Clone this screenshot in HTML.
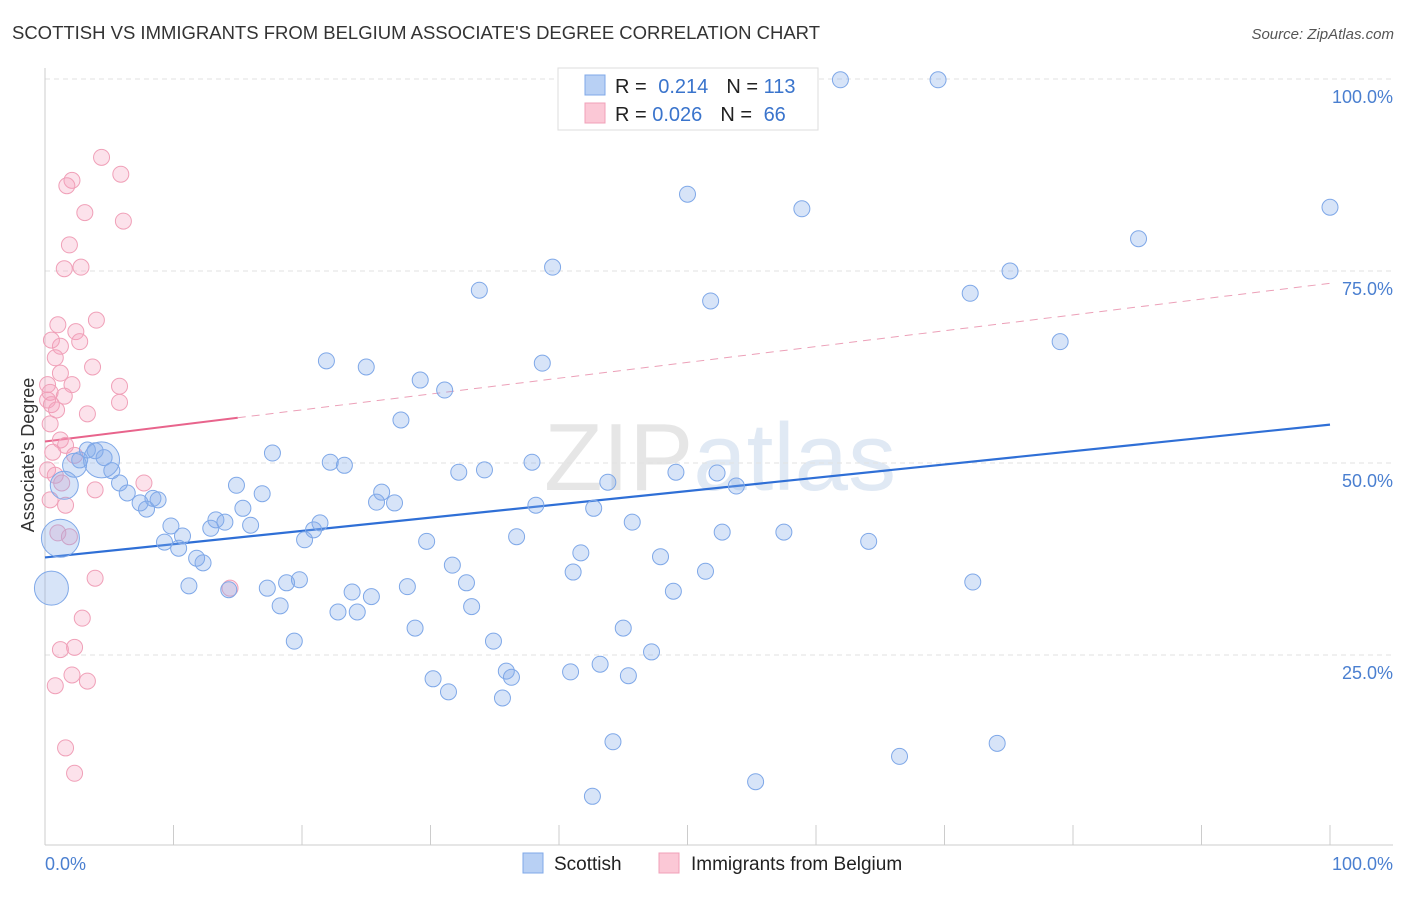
<!DOCTYPE html>
<html><head><meta charset="utf-8"><style>
body{margin:0;background:#fff;font-family:"Liberation Sans",sans-serif;}
svg text{font-family:"Liberation Sans",sans-serif;}
</style></head><body>
<svg id="chart" width="1406" height="892" viewBox="0 0 1406 892">
<text x="12" y="39" font-size="18" fill="#333" textLength="808" lengthAdjust="spacingAndGlyphs">SCOTTISH VS IMMIGRANTS FROM BELGIUM ASSOCIATE'S DEGREE CORRELATION CHART</text>
<text x="1394" y="39" font-size="15" fill="#555" font-style="italic" text-anchor="end">Source: ZipAtlas.com</text>
<text x="720" y="490" font-size="96" fill="#e4e8ee" text-anchor="middle" font-family="Liberation Serif"><tspan fill="#e6e6e6">ZIP</tspan><tspan fill="#e0e9f4" font-family="Liberation Sans">atlas</tspan></text>
<g id="grid"></g>
<g id="axes"></g>
<g id="lines"></g>
<g id="points"></g>
<text x="34" y="455" font-size="18" fill="#333" text-anchor="middle" transform="rotate(-90 34 455)">Associate's Degree</text>
<text x="45" y="870" font-size="18" fill="#4a7fd0">0.0%</text>
<text x="1393" y="870" font-size="18" fill="#4a7fd0" text-anchor="end">100.0%</text>
<g>
<rect x="558" y="68" width="260" height="62" fill="#fff" stroke="#ddd"/>
<rect x="585" y="75" width="20" height="20" fill="#b8d0f4" stroke="#7fa8e8"/>
<rect x="585" y="103" width="20" height="20" fill="#fbc8d6" stroke="#f0a0b8"/>
<text x="615" y="93" font-size="20" fill="#222">R = <tspan fill="#3a74cc" dx="6">0.214</tspan><tspan dx="18" fill="#222">N = </tspan><tspan fill="#3a74cc">113</tspan></text>
<text x="615" y="121" font-size="20" fill="#222">R = <tspan fill="#3a74cc">0.026</tspan><tspan dx="18" fill="#222">N = </tspan><tspan fill="#3a74cc" dx="6">66</tspan></text>
</g>
<g>
<rect x="523" y="853" width="20" height="20" fill="#b8d0f4" stroke="#7fa8e8"/>
<text x="554" y="870" font-size="19" fill="#222">Scottish</text>
<rect x="659" y="853" width="20" height="20" fill="#fbc8d6" stroke="#f0a0b8"/>
<text x="691" y="870" font-size="19" fill="#222">Immigrants from Belgium</text>
</g>
</svg>
<script>
const yTicks=[25,50,75,100];
const yTickLabels=["25.0%","50.0%","75.0%","100.0%"];
const xTicks=[0,10,20,30,40,50,60,70,80,90,100];
const blueX=[61.9,69.5,50.0,58.9,100,85.1,39.5,75.1,33.8,51.8,72.0,79.0,21.9,25.0,38.7,29.2,31.1,27.7,17.7,22.2,23.3,32.2,34.2,37.9,49.1,52.3,53.8,43.8,14.9,16.9,26.2,25.8,27.2,38.2,42.7,45.7,52.7,57.5,64.1,36.7,29.7,41.7,47.9,31.7,51.4,41.1,32.8,72.2,48.9,28.2,23.9,25.4,33.2,22.8,24.3,45.0,28.8,34.9,47.2,19.4,43.2,40.9,45.4,35.9,36.3,30.2,31.4,35.6,44.2,66.5,74.1,55.3,42.6,3.3,3.9,4.6,5.2,5.8,6.4,7.4,7.9,8.4,8.8,9.8,10.7,9.3,10.4,11.8,12.3,11.2,14.3,17.3,18.3,18.8,19.8,20.2,20.9,21.4,12.9,13.3,14.0,15.4,16.0,2.7,4.4,0.5,1.2,1.5,2.3,1.2];
const blueY=[99.9,99.9,85.0,83.1,83.3,79.2,75.5,75.0,72.5,71.1,72.1,65.8,63.3,62.5,63.0,60.8,59.5,55.6,51.3,50.1,49.7,48.8,49.1,50.1,48.8,48.7,47.0,47.5,47.1,46.0,46.2,44.9,44.8,44.5,44.1,42.3,41.0,41.0,39.8,40.4,39.8,38.3,37.8,36.7,35.9,35.8,34.4,34.5,33.3,33.9,33.2,32.6,31.3,30.6,30.6,28.5,28.5,26.8,25.4,26.8,23.8,22.8,22.3,22.9,22.1,21.9,20.2,19.4,13.7,11.8,13.5,8.5,6.6,51.7,51.6,50.7,49.0,47.4,46.1,44.8,44.0,45.4,45.2,41.8,40.5,39.7,38.9,37.6,37.0,34.0,33.5,33.7,31.4,34.4,34.8,40.0,41.3,42.2,41.5,42.6,42.3,44.1,41.9,50.4,50.4,33.7,40.2,47.1,49.7,43.9];
const blueR=[8,8,8,8,8,8,8,8,8,8,8,8,8,8,8,8,8,8,8,8,8,8,8,8,8,8,8,8,8,8,8,8,8,8,8,8,8,8,8,8,8,8,8,8,8,8,8,8,8,8,8,8,8,8,8,8,8,8,8,8,8,8,8,8,8,8,8,8,8,8,8,8,8,8,8,8,8,8,8,8,8,8,8,8,8,8,8,8,8,8,8,8,8,8,8,8,8,8,8,8,8,8,8,8,18,17,19,14,12];
const pinkX=[4.4,5.9,2.1,1.7,3.1,6.1,1.9,1.5,2.8,4.0,1.0,2.4,2.7,1.2,0.5,0.8,3.7,1.2,5.8,2.1,0.2,0.4,1.5,5.8,0.2,0.5,0.9,3.3,0.4,1.2,1.6,0.6,2.3,0.2,0.8,1.3,7.7,3.9,0.4,1.6,1.0,1.9,3.9,14.4,2.9,2.3,1.2,2.1,3.3,0.8,1.6,2.3];
const pinkY=[89.8,87.6,86.8,86.1,82.6,81.5,78.4,75.3,75.5,68.6,68.0,67.1,65.8,65.2,66.0,63.7,62.5,61.7,60.0,60.2,60.2,59.2,58.7,57.9,58.2,57.6,56.9,56.4,55.1,53.0,52.3,51.4,51.0,49.1,48.4,47.4,47.4,46.5,45.2,44.5,40.9,40.4,35.0,33.7,29.8,26.0,25.7,22.4,21.6,21.0,12.9,9.6];
const blueTrend=[37.7,55.0];
const pinkTrend=[52.8,73.4];
const pinkSolidEnd=15;

const NS="http://www.w3.org/2000/svg";
const X0=45,X1=1330,Y0=847,Y100=79;
function sx(v){return X0+(X1-X0)*v/100;}
function sy(v){return Y0-(Y0-Y100)*v/100;}
function mk(tag,attrs,parent){const e=document.createElementNS(NS,tag);for(const k in attrs)e.setAttribute(k,attrs[k]);parent.appendChild(e);return e;}
const grid=document.getElementById('grid'),axes=document.getElementById('axes'),lines=document.getElementById('lines'),pts=document.getElementById('points');
yTicks.forEach((t,i)=>{
 const l=mk('line',{x1:45,x2:1393,y1:sy(t),y2:sy(t),stroke:'#e2e2e2','stroke-dasharray':'5,4'},grid);
 
 
 const tx=mk('text',{x:1393,y:sy(t)+24,'font-size':18,fill:'#4a7fd0','text-anchor':'end'},grid);
 tx.textContent=yTickLabels[i];
 
 
});
const xa=mk('line',{x1:45,x2:1393,y1:845,y2:845,stroke:'#ccc'},axes);


const ya=mk('line',{x1:45,x2:45,y1:68,y2:845,stroke:'#ccc'},axes);


xTicks.forEach(t=>{
 const l=mk('line',{x1:sx(t),x2:sx(t),y1:825,y2:845,stroke:'#ccc'},axes);
 
 
});
pinkX.forEach((x,i)=>{
 const c=mk('circle',{cx:sx(x),cy:sy(pinkY[i]),r:8,fill:'rgba(244,160,188,0.3)',stroke:'#f0a0b8','stroke-width':1},pts);
 
 
});
blueX.forEach((x,i)=>{
 const c=mk('circle',{cx:sx(x),cy:sy(blueY[i]),r:blueR[i],fill:'rgba(130,170,232,0.32)',stroke:'#7fa8e8','stroke-width':1},pts);
 
 
});
const bl=mk('line',{x1:sx(0),y1:sy(blueTrend[0]),x2:sx(100),y2:sy(blueTrend[1]),stroke:'#2f6fd6','stroke-width':2.2},lines);


const pe=pinkTrend[0]+(pinkTrend[1]-pinkTrend[0])*pinkSolidEnd/100;
const pl=mk('line',{x1:sx(0),y1:sy(pinkTrend[0]),x2:sx(pinkSolidEnd),y2:sy(pe),stroke:'#e8648c','stroke-width':2},lines);


const pd=mk('line',{x1:sx(pinkSolidEnd),y1:sy(pe),x2:sx(100),y2:sy(pinkTrend[1]),stroke:'#eca0b8','stroke-width':1,'stroke-dasharray':'8,6'},lines);


</script>
</body></html>
